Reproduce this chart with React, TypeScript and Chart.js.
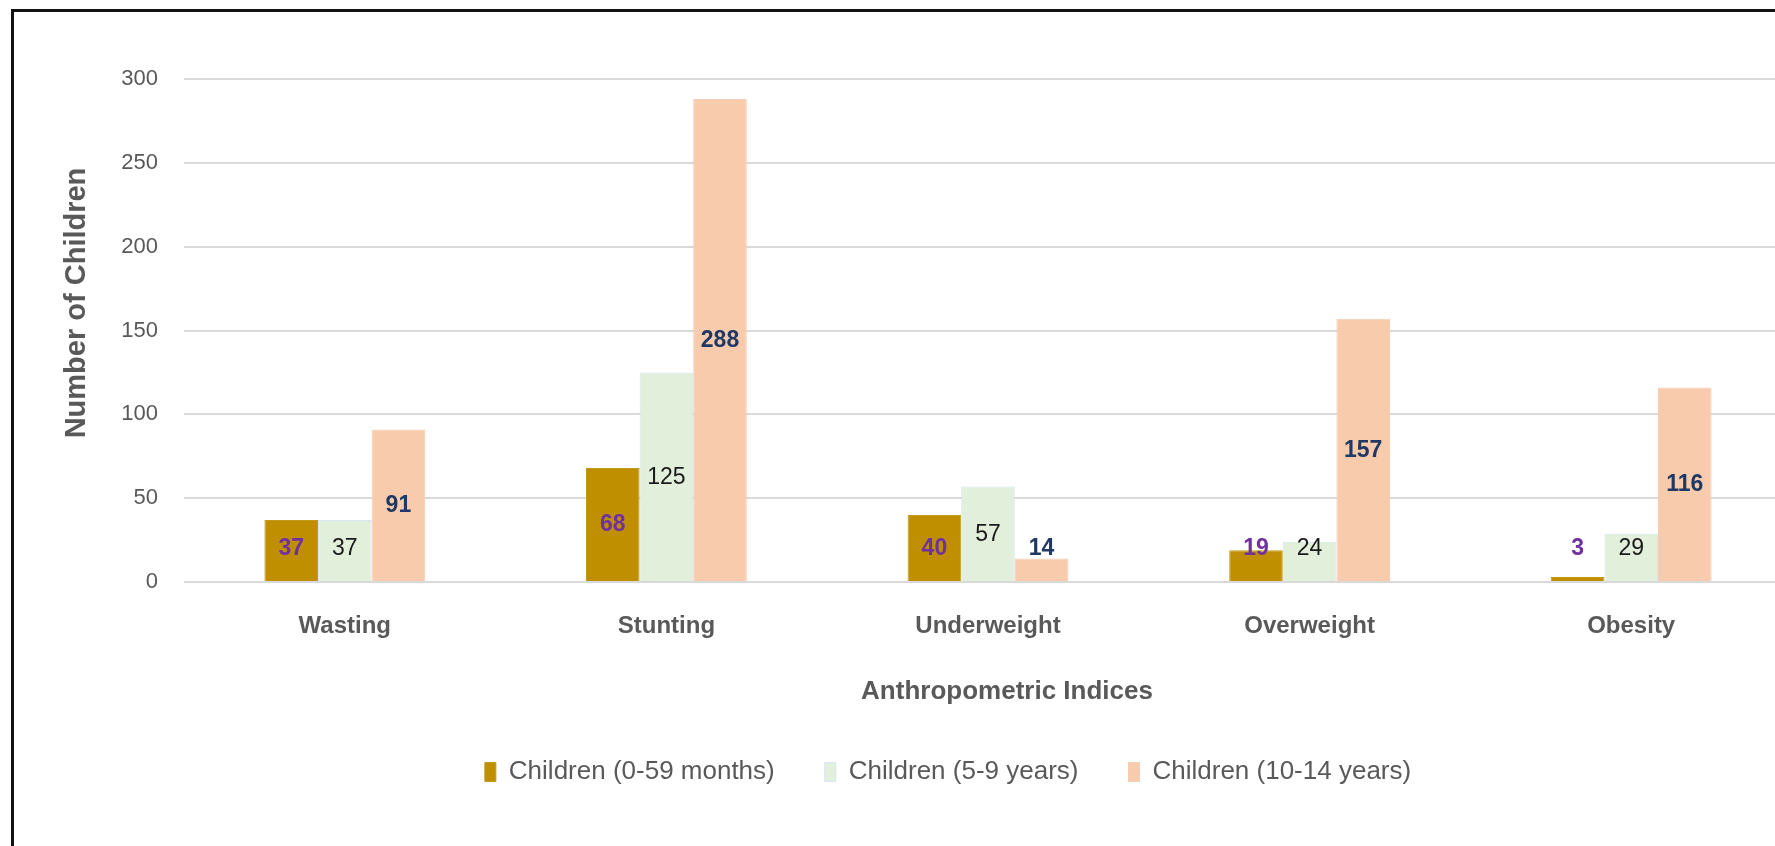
import React, { useEffect, useRef } from "react";
import { Chart, registerables } from "chart.js";

Chart.register(...registerables);

// Anthropometric indices by age group (number of children)
const categories = ["Wasting", "Stunting", "Underweight", "Overweight", "Obesity"];
const seriesNames = ["Children (0-59 months)", "Children (5-9 years)", "Children (10-14 years)"];
const under5Values = [37, 68, 40, 19, 3];
const age5to9Values = [37, 125, 57, 24, 29];
const age10to14Values = [91, 288, 14, 157, 116];

const yMin = 0;
const yMax = 300;
const yStep = 50;

const yTitle = "Number of Children";
const xTitle = "Anthropometric Indices";

const FONT = '"Liberation Sans", Arial, sans-serif';
const TEXT_GREY = "#595959";

const barFill = ["#BF8F00", "#E2EFDA", "#F8CBAD"];
const barEdge = ["#C49A1C", "#D6E6F4", "#F6CDB2"];
const labelColor = ["#7030A0", "#1A1A1A", "#1F3864"];
const labelWeight = ["bold", "normal", "bold"];

// Values are written inside the bars; short bars keep their label a little above the baseline.
const valueLabels = {
  id: "valueLabels",
  afterDatasetsDraw(chart: any) {
    const { ctx } = chart;
    const yScale = chart.scales.y;
    chart.data.datasets.forEach((ds: any, i: number) => {
      const meta = chart.getDatasetMeta(i);
      ctx.save();
      ctx.font = `${labelWeight[i]} 23px ${FONT}`;
      ctx.fillStyle = labelColor[i];
      ctx.textAlign = "center";
      ctx.textBaseline = "middle";
      meta.data.forEach((bar: any, j: number) => {
        const v = ds.data[j] as number;
        const py = yScale.getPixelForValue(Math.max(v / 2, 20));
        ctx.fillText(String(v), bar.x, py);
      });
      ctx.restore();
    });
  },
};

// Axis titles placed by hand so they sit where the layout wants them.
const axisTitles = {
  id: "axisTitles",
  afterDraw(chart: any) {
    const { ctx } = chart;
    ctx.save();
    ctx.fillStyle = TEXT_GREY;
    ctx.textAlign = "center";
    ctx.textBaseline = "middle";
    ctx.font = `bold 29px ${FONT}`;
    ctx.translate(77, 303);
    ctx.rotate(-Math.PI / 2);
    ctx.fillText(yTitle, 0, 0);
    ctx.restore();

    ctx.save();
    ctx.fillStyle = TEXT_GREY;
    ctx.textAlign = "center";
    ctx.textBaseline = "middle";
    ctx.font = `bold 26px ${FONT}`;
    ctx.fillText(xTitle, 1007, 692);
    ctx.restore();
  },
};

export default function App() {
  const canvasRef = useRef<HTMLCanvasElement | null>(null);

  useEffect(() => {
    const canvas = canvasRef.current;
    if (!canvas) return;
    const seriesValues = [under5Values, age5to9Values, age10to14Values];
    const chart = new Chart(canvas, {
      type: "bar",
      data: {
        labels: categories,
        datasets: seriesNames.map((name, i) => ({
          label: name,
          data: seriesValues[i],
          backgroundColor: barFill[i],
          borderColor: barEdge[i],
          borderWidth: 1,
          categoryPercentage: 0.5,
          barPercentage: 1,
        })),
      },
      options: {
        animation: false,
        responsive: false,
        devicePixelRatio: 1,
        layout: { padding: { left: 104, top: 79, right: 0, bottom: 51 } },
        plugins: {
          legend: {
            position: "bottom",
            labels: {
              boxWidth: 11,
              boxHeight: 19,
              padding: 50,
              color: TEXT_GREY,
              font: { family: FONT, size: 26 },
            },
          },
          tooltip: { enabled: false },
        },
        scales: {
          x: {
            grid: { display: false },
            border: { display: false },
            ticks: {
              color: TEXT_GREY,
              padding: 22,
              font: { family: FONT, size: 24, weight: "bold" },
            },
            afterFit(scale: any) {
              scale.height = 127;
            },
          },
          y: {
            min: yMin,
            max: yMax,
            ticks: {
              stepSize: yStep,
              color: TEXT_GREY,
              padding: 26,
              font: { family: FONT, size: 22 },
            },
            grid: { color: "#D9D9D9", lineWidth: 2, drawTicks: false },
            border: { display: false },
            afterFit(scale: any) {
              scale.width = 80;
            },
          },
        },
      },
      plugins: [valueLabels, axisTitles],
    });
    return () => chart.destroy();
  }, []);

  return (
    <div
      style={{
        position: "fixed",
        left: 0,
        top: 0,
        width: 1775,
        height: 846,
        overflow: "hidden",
        background: "#ffffff",
      }}
    >
      <div
        style={{
          position: "absolute",
          left: 11,
          top: 9,
          right: -20,
          bottom: -20,
          borderLeft: "3px solid #111111",
          borderTop: "3px solid #111111",
        }}
      />
      <canvas
        ref={canvasRef}
        width={1792}
        height={846}
        style={{ position: "absolute", left: 0, top: 0 }}
      />
    </div>
  );
}
